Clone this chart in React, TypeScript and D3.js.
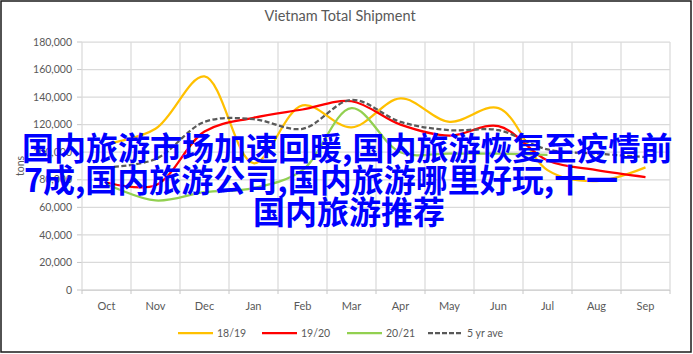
import React from 'react';
import * as d3 from 'd3';

// Months of the shipping season
const months = ['Oct', 'Nov', 'Dec', 'Jan', 'Feb', 'Mar', 'Apr', 'May', 'Jun', 'Jul', 'Aug', 'Sep'];

// Shipments in tons per season
const season1819 = [106000, 117000, 155000, 92000, 134000, 118000, 139000, 122000, 132000, 87000, 79000, 89000];
const season1920 = [78000, 76000, 115000, 125000, 131000, 137000, 120000, 112000, 119000, 94000, 87000, 82000];
const season2021 = [77000, 65000, 71000, 74000, 87000, 132000, 100000, 99000, 99000, 98000];
const fiveYearAvg = [89000, 95000, 122000, 124000, 117000, 138000, 122000, 116000, 116000, 102000, 99000, 96500];

const seriesNames = ['18/19', '19/20', '20/21', '5 yr ave'];
const seriesColors = ['#FFC000', '#FF0000', '#92D050', '#595959'];
const seriesValues = [season1819, season1920, season2021, fiveYearAvg];

const yTicks = [0, 20000, 40000, 60000, 80000, 100000, 120000, 140000, 160000, 180000];

const titleText = 'Vietnam Total Shipment';
const yAxisTitle = 'tons';

// Headline overlay, one entry per line
const headlineLines = [
  '国内旅游市场加速回暖,国内旅游恢复至疫情前',
  '7成,国内旅游公司,国内旅游哪里好玩,十一',
  '国内旅游推荐',
];

const W = 693;
const H = 354;
const plot = { left: 82, right: 670, top: 42, bottom: 290 };
const chartFont = "Lato, 'Open Sans', sans-serif";
const textGray = '#595959';

export default function App() {
  const x = d3.scaleBand<string>().domain(months).range([plot.left, plot.right]).padding(0);
  const y = d3.scaleLinear().domain([0, 180000]).range([plot.bottom, plot.top]);
  const cx = (i: number) => (x(months[i]) as number) + x.bandwidth() / 2;

  const lineGen = d3
    .line<number>()
    .x((_, i) => cx(i))
    .y((d) => y(d))
    .curve(d3.curveCatmullRom.alpha(0.5));

  const boundaries = months.map((m) => x(m) as number).concat([plot.right]);
  const fmt = d3.format(',');

  const legendX = [178, 262, 347, 428];
  const legendY = 333;

  const headlineX = [22, 24, 253];
  const headlineY = [160, 192, 224];

  return (
    <svg
      width={W}
      height={H}
      style={{ position: 'absolute', left: 0, top: 0, background: '#fff' }}
      xmlns="http://www.w3.org/2000/svg"
    >
      <rect x={0} y={0} width={W} height={H} fill="#fff" />

      {/* horizontal gridlines and y ticks */}
      {yTicks.map((t) => (
        <g key={'gy' + t}>
          <line x1={plot.left} x2={plot.right} y1={y(t)} y2={y(t)} stroke={t === 0 ? '#c6c6c6' : '#dadada'} strokeWidth={1.25} />
          <line x1={77} x2={plot.left} y1={y(t)} y2={y(t)} stroke="#c6c6c6" strokeWidth={1} />
          <text
            x={72}
            y={y(t)}
            dy="0.35em"
            textAnchor="end"
            fontFamily={chartFont}
            fontSize={10.5}
            fill={textGray}
          >
            {fmt(t)}
          </text>
        </g>
      ))}

      {/* vertical gridlines at category boundaries with axis ticks */}
      {boundaries.map((bx, i) => (
        <g key={'gx' + i}>
          <line x1={bx} x2={bx} y1={plot.top} y2={plot.bottom} stroke="#dadada" strokeWidth={1.25} />
          <line x1={bx} x2={bx} y1={plot.bottom} y2={plot.bottom + 4} stroke="#c6c6c6" strokeWidth={1} />
        </g>
      ))}

      {/* month labels */}
      {months.map((m, i) => (
        <text key={m} x={cx(i)} y={310} textAnchor="middle" fontFamily={chartFont} fontSize={11} fill={textGray}>
          {m}
        </text>
      ))}

      {/* y axis title */}
      <text
        transform={`translate(24, ${(plot.top + plot.bottom) / 2}) rotate(-90)`}
        textAnchor="middle"
        fontFamily={chartFont}
        fontSize={10.5}
        fill={textGray}
      >
        {yAxisTitle}
      </text>

      {/* series lines */}
      {seriesValues.map((vals, s) => (
        <path
          key={seriesNames[s]}
          d={lineGen(vals) || ''}
          fill="none"
          stroke={seriesColors[s]}
          strokeWidth={2.25}
          strokeDasharray={s === 3 ? '5,2.5' : undefined}
          strokeLinecap="butt"
        />
      ))}

      {/* title */}
      <text x={340} y={21} textAnchor="middle" fontFamily={chartFont} fontSize={14.5} fill={textGray}>
        {titleText}
      </text>

      {/* legend */}
      {seriesNames.map((name, s) => (
        <g key={'lg' + name}>
          <line
            x1={legendX[s]}
            x2={legendX[s] + 35}
            y1={legendY}
            y2={legendY}
            stroke={seriesColors[s]}
            strokeWidth={2.25}
            strokeDasharray={s === 3 ? '5,2' : undefined}
          />
          <text x={legendX[s] + 39} y={legendY} dy="0.35em" fontFamily={chartFont} fontSize={10.5} fill={textGray}>
            {name}
          </text>
        </g>
      ))}

      {/* outer frame */}
      <rect x={1} y={1} width={690} height={351} fill="none" stroke="#1a1a1a" strokeWidth={1.5} />

      {/* headline overlay */}
      {headlineLines.map((t, i) => (
        <text
          key={'hl' + i}
          x={headlineX[i]}
          y={headlineY[i]}
          fontFamily="'Noto Sans CJK SC', sans-serif"
          fontWeight={700}
          fontSize={32}
          fill="#0000FF"
        >
          {t}
        </text>
      ))}
    </svg>
  );
}
